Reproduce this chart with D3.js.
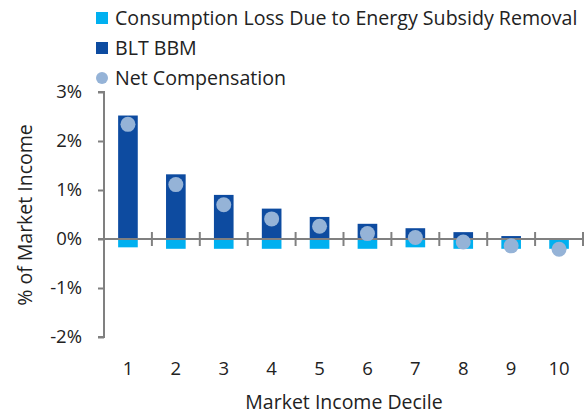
<!DOCTYPE html>
<html><head><meta charset="utf-8">
<script src="https://cdn.jsdelivr.net/npm/d3@7"></script>
<style>body{margin:0;background:#fff;} text{font-family:"Open Sans","Noto Sans",sans-serif;fill:#222;}</style>
</head><body><svg id="c" width="587" height="416"></svg>
<script>
const deciles = ["1","2","3","4","5","6","7","8","9","10"];
const consumptionLoss = [-0.17,-0.20,-0.20,-0.20,-0.20,-0.20,-0.17,-0.20,-0.20,-0.20];
const bltBbm = [2.52,1.32,0.90,0.62,0.45,0.31,0.22,0.14,0.06,0.01];
const netComp = [2.34,1.11,0.70,0.41,0.26,0.11,0.03,-0.06,-0.14,-0.21];
const yTicks = [3,2,1,0,-1,-2];
const legendLabels = ["Consumption Loss Due to Energy Subsidy Removal","BLT BBM","Net Compensation"];
const colors = {loss:"#00b0f0", blt:"#0d4ba0", net:"#95b3d7", axis:"#808080"};

const svg = d3.select("#c");
const x = d3.scaleBand().domain(deciles).range([104,583]).paddingInner(0.59).paddingOuter(0.295);
const xs = d3.scaleBand().domain(deciles).range([104,583]);
const y = d3.scaleLinear().domain([-2,3]).range([337,92]);

// bars
svg.selectAll("rect.blt").data(deciles).join("rect")
  .attr("x",d=>x(d)).attr("width",x.bandwidth())
  .attr("y",(d,i)=>y(bltBbm[i])).attr("height",(d,i)=>y(0)-y(bltBbm[i]))
  .attr("fill",colors.blt);
svg.selectAll("rect.loss").data(deciles).join("rect")
  .attr("x",d=>x(d)).attr("width",x.bandwidth())
  .attr("y",y(0)).attr("height",(d,i)=>y(consumptionLoss[i])-y(0))
  .attr("fill",colors.loss);

// y axis
const ya = svg.append("g").attr("transform","translate(104,0)")
  .call(d3.axisLeft(y).tickValues(yTicks).tickFormat(d=>d+"%").tickSize(6).tickPadding(16));
ya.select(".domain").attr("stroke",colors.axis).attr("stroke-width",2).attr("d","M-6,92H0V337H-6");
ya.selectAll(".tick line").attr("stroke",colors.axis).attr("stroke-width",2);
ya.selectAll(".tick text").attr("font-size",18.5).attr("fill","#222").attr("font-family","Open Sans");

// x axis line and ticks
svg.append("line").attr("x1",98).attr("x2",583).attr("y1",y(0)).attr("y2",y(0))
  .attr("stroke",colors.axis).attr("stroke-width",2);
svg.selectAll("line.xt").data(deciles).join("line")
  .attr("x1",d=>xs(d)+xs.bandwidth()).attr("x2",d=>xs(d)+xs.bandwidth())
  .attr("y1",y(0)-7).attr("y2",y(0)+7).attr("stroke",colors.axis).attr("stroke-width",2);

// points
svg.selectAll("circle.net").data(deciles).join("circle")
  .attr("cx",d=>x(d)+x.bandwidth()/2).attr("cy",(d,i)=>y(netComp[i])).attr("r",7.5)
  .attr("fill",colors.net);

// x labels
svg.selectAll("text.xl").data(deciles).join("text")
  .attr("x",d=>xs(d)+xs.bandwidth()/2).attr("y",375).attr("text-anchor","middle")
  .attr("font-size",18.5).text(d=>d);
svg.append("text").attr("x",344).attr("y",409).attr("text-anchor","middle").attr("font-size",19.5).text("Market Income Decile");
svg.append("text").attr("transform","translate(32,215) rotate(-90)").attr("text-anchor","middle").attr("font-size",19.5).text("% of Market Income");

// legend
const lg = svg.append("g");
legendLabels.forEach((l,i)=>{
  const cy = 18 + i*30;
  if(i<2) lg.append("rect").attr("x",96).attr("y",cy-6).attr("width",12).attr("height",12).attr("fill",i==0?colors.loss:colors.blt);
  else lg.append("circle").attr("cx",102).attr("cy",cy).attr("r",6).attr("fill",colors.net);
  lg.append("text").attr("x",115).attr("y",cy+7).attr("font-size",19.6).text(l);
});
</script></body></html>
